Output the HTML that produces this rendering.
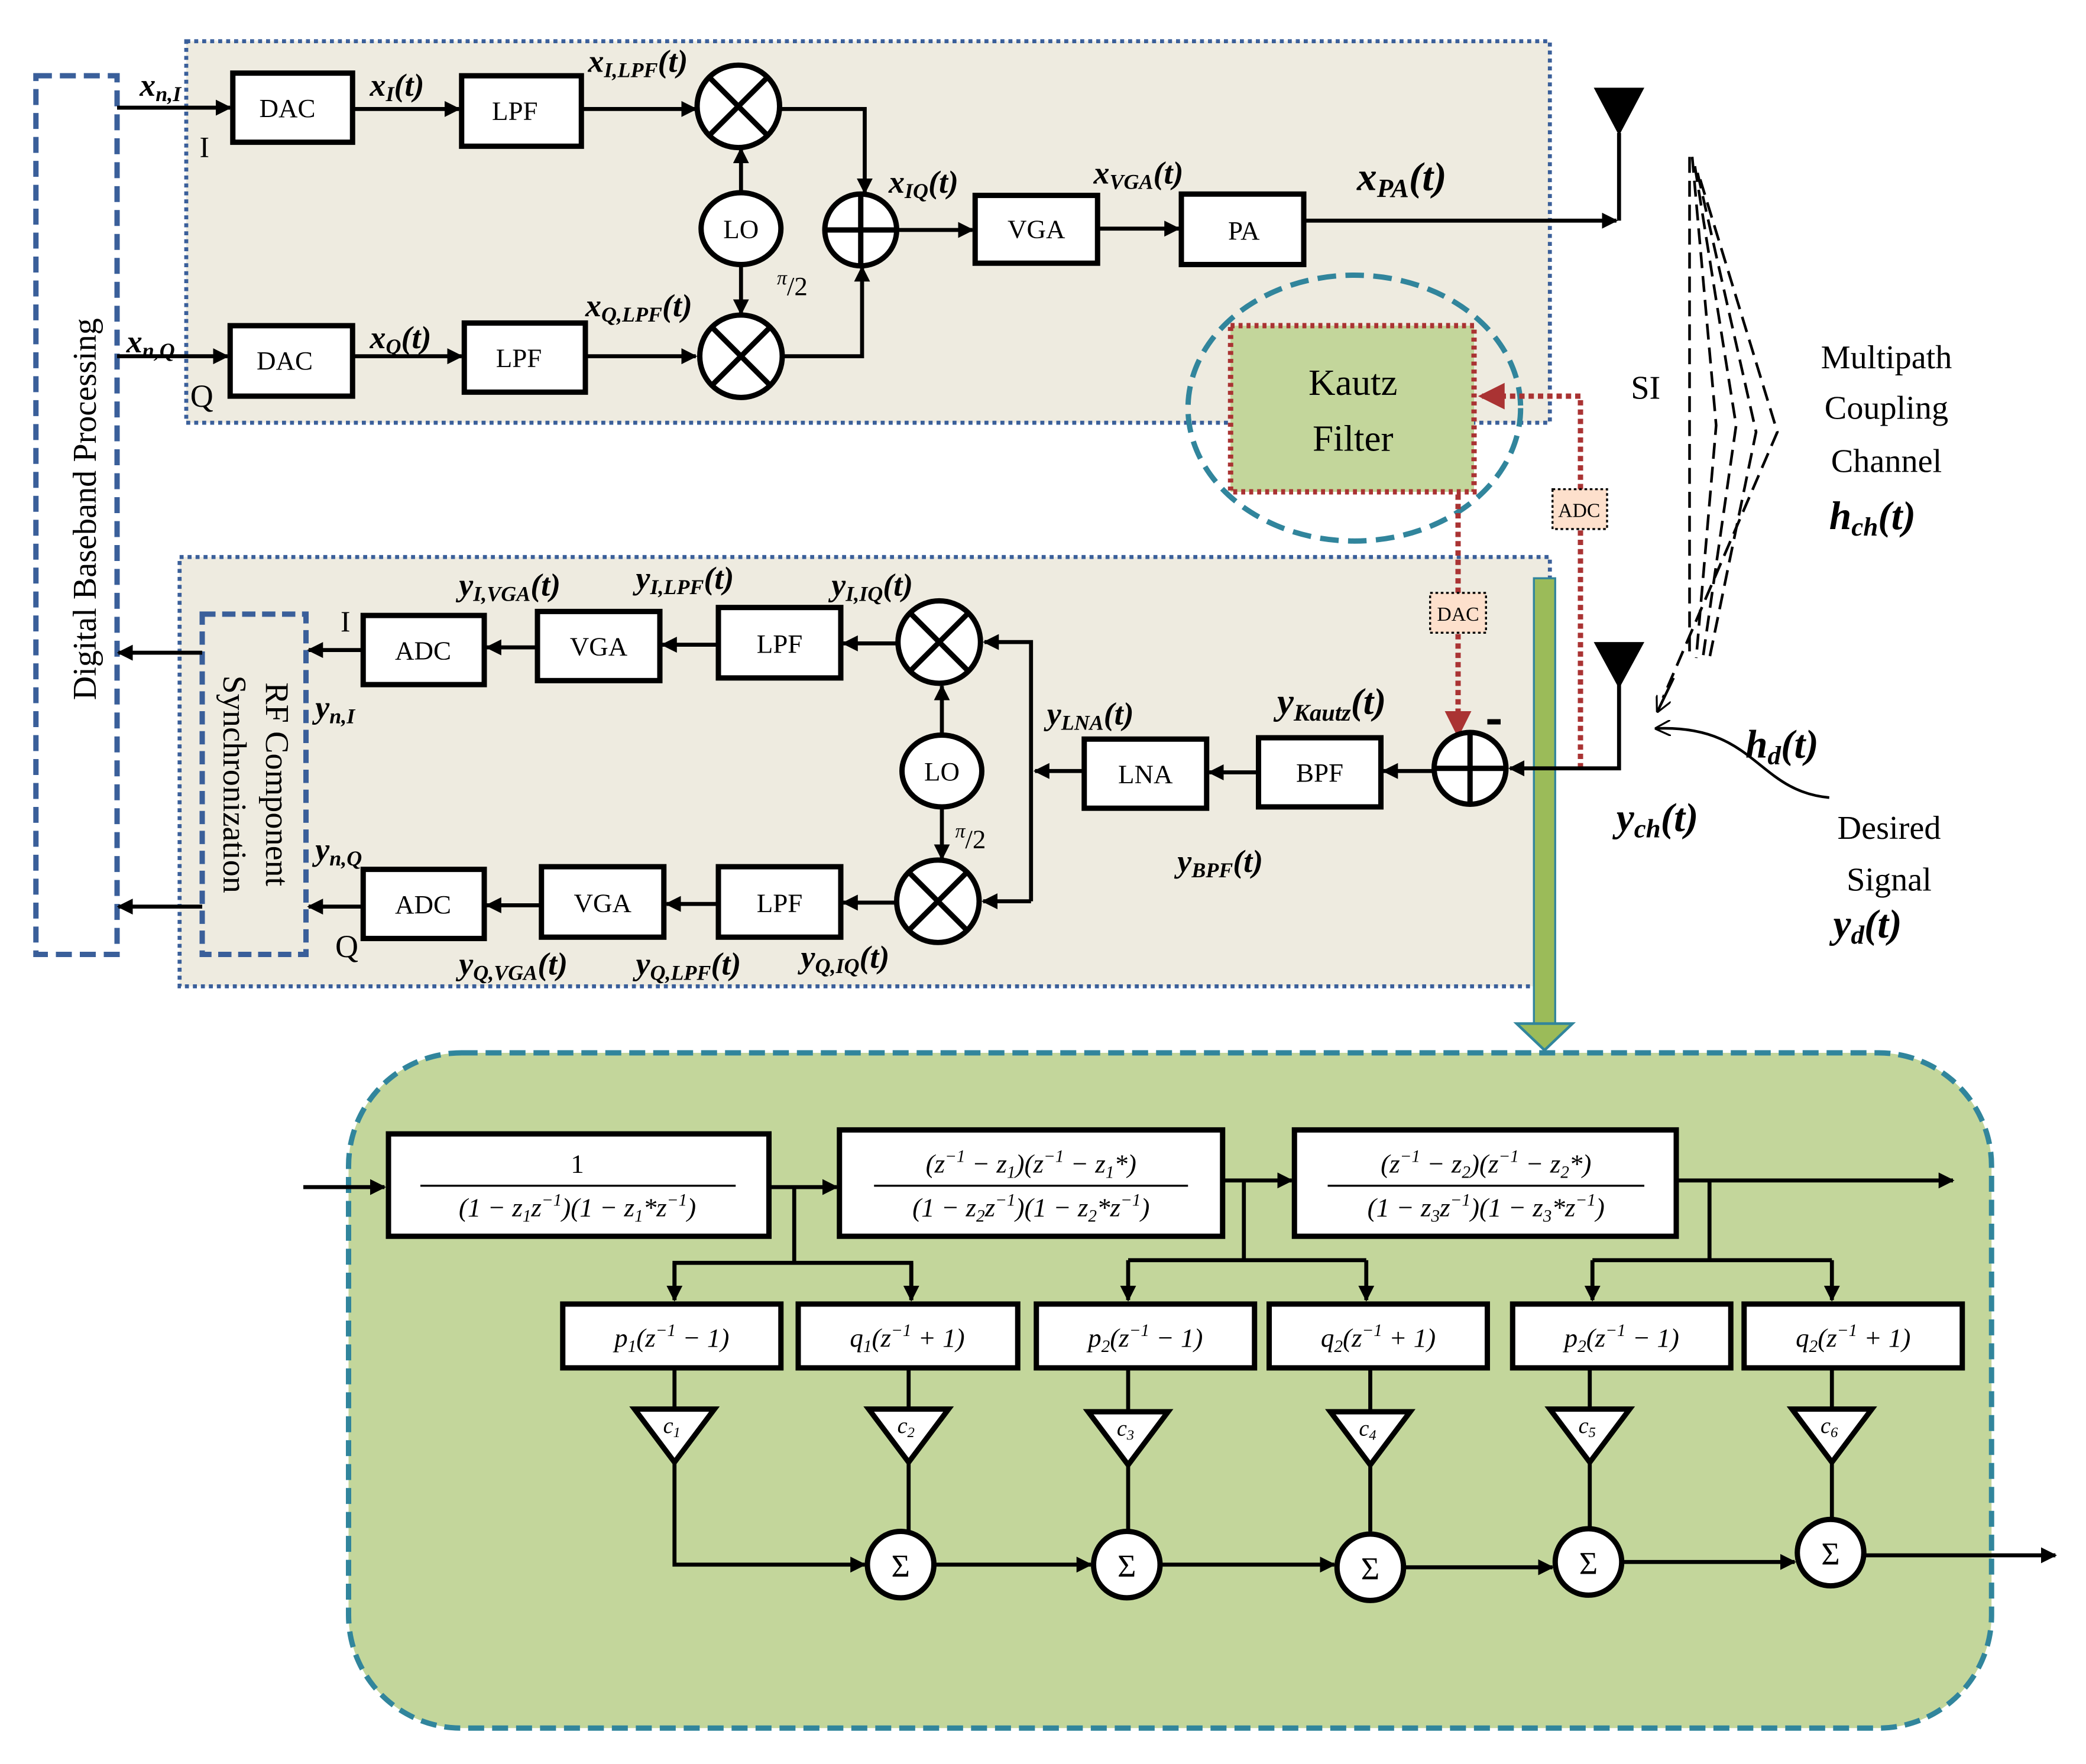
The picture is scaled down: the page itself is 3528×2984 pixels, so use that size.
<!DOCTYPE html>
<html><head><meta charset="utf-8"><style>
html,body{margin:0;padding:0;background:#fff}
svg{display:block}
text{font-family:"Liberation Serif",serif;fill:#000}
.m{font-style:italic;font-weight:bold}
</style></head><body>
<svg width="3528" height="2984" viewBox="0 0 1568 1327" preserveAspectRatio="none" xmlns="http://www.w3.org/2000/svg">
<defs>
<marker id="a" viewBox="0 0 10 10" refX="9" refY="5" markerWidth="4" markerHeight="4" orient="auto" markerUnits="strokeWidth"><path d="M0,0L10,5L0,10z" fill="#000"/></marker>
<marker id="r" viewBox="0 0 10 10" refX="9" refY="5" markerWidth="5" markerHeight="5" orient="auto" markerUnits="strokeWidth"><path d="M0,0L10,5L0,10z" fill="#a33"/></marker>
<marker id="o" viewBox="0 0 10 10" refX="9" refY="5" markerWidth="6" markerHeight="6" orient="auto" markerUnits="strokeWidth"><path d="M0,0L10,5L0,10" fill="none" stroke="#000" stroke-width="1.2"/></marker>
</defs>
<rect x="140" y="31" width="1025" height="287" fill="#eeebe0" stroke="#3a5f9a" stroke-width="3" stroke-dasharray="3,3"/>
<rect x="135" y="419" width="1030" height="323" fill="#eeebe0" stroke="#3a5f9a" stroke-width="3" stroke-dasharray="3,3"/>
<rect x="27" y="57" width="61" height="661" fill="#fff" stroke="#3a5f9a" stroke-width="4" stroke-dasharray="12,6"/>
<text transform="translate(72,383) rotate(-90)" text-anchor="middle" font-size="25">Digital Baseband Processing</text>
<rect x="152" y="462" width="78" height="256" fill="none" stroke="#3a5f9a" stroke-width="4" stroke-dasharray="10,5"/>
<text transform="translate(200,590) rotate(90)" text-anchor="middle" font-size="25">RF Component</text>
<text transform="translate(168,590) rotate(90)" text-anchor="middle" font-size="25">Synchronization</text>

<g stroke="#000" stroke-width="3" fill="none">
<line x1="88" y1="81" x2="173" y2="81" marker-end="url(#a)"/>
<line x1="265" y1="82" x2="345" y2="82" marker-end="url(#a)"/>
<line x1="437" y1="82" x2="523" y2="82" marker-end="url(#a)"/>
<line x1="88" y1="268" x2="171" y2="268" marker-end="url(#a)"/>
<line x1="265" y1="268" x2="347" y2="268" marker-end="url(#a)"/>
<line x1="440" y1="268" x2="523" y2="268" marker-end="url(#a)"/>
<line x1="557" y1="145" x2="557" y2="112" marker-end="url(#a)"/>
<line x1="557" y1="199" x2="557" y2="236" marker-end="url(#a)"/>
<polyline points="586,82 650,82 650,145" marker-end="url(#a)"/>
<polyline points="588,268 648,268 648,201" marker-end="url(#a)"/>
<line x1="674" y1="173" x2="731" y2="173" marker-end="url(#a)"/>
<line x1="825" y1="172" x2="886" y2="172" marker-end="url(#a)"/>
<line x1="980" y1="166" x2="1215" y2="166" marker-end="url(#a)"/>
<line x1="1217" y1="100" x2="1217" y2="166"/>
</g>
<g fill="#fff" stroke="#000" stroke-width="4">
<rect x="175" y="55" width="90" height="52"/><rect x="347" y="57" width="90" height="53"/>
<rect x="173" y="245" width="92" height="53"/><rect x="349" y="243" width="91" height="52"/>
<rect x="733" y="147" width="92" height="51"/><rect x="888" y="146" width="92" height="53"/>
<circle cx="555" cy="80" r="31"/><circle cx="557" cy="268" r="31"/>
<ellipse cx="557" cy="172" rx="30" ry="27"/><circle cx="647" cy="173" r="27"/>
</g>
<g stroke="#000" stroke-width="4">
<path d="M533,58L577,102M577,58L533,102M535,246L579,290M579,246L535,290M620,173H674M647,146V200"/>
</g>
<polygon points="1198,66 1236,66 1217,102" fill="#000"/>
<g font-size="20" text-anchor="middle">
<text x="216" y="88">DAC</text><text x="387" y="90">LPF</text><text x="214" y="278">DAC</text><text x="390" y="276">LPF</text>
<text x="779" y="179">VGA</text><text x="935" y="180">PA</text><text x="557" y="179">LO</text>
</g>
<g class="m" font-size="24">
<text x="105" y="72">x<tspan font-size="16" dy="4">n,I</tspan></text>
<text x="95" y="265">x<tspan font-size="16" dy="4">n,Q</tspan></text>
<text x="278" y="72">x<tspan font-size="16" dy="4">I</tspan><tspan dy="-4">(t)</tspan></text>
<text x="278" y="262">x<tspan font-size="16" dy="4">Q</tspan><tspan dy="-4">(t)</tspan></text>
<text x="442" y="54">x<tspan font-size="16" dy="4">I,LPF</tspan><tspan dy="-4">(t)</tspan></text>
<text x="440" y="238">x<tspan font-size="16" dy="4">Q,LPF</tspan><tspan dy="-4">(t)</tspan></text>
<text x="668" y="145">x<tspan font-size="16" dy="4">IQ</tspan><tspan dy="-4">(t)</tspan></text>
<text x="822" y="138">x<tspan font-size="16" dy="4">VGA</tspan><tspan dy="-4">(t)</tspan></text>
<text x="1020" y="143" font-size="30">x<tspan font-size="20" dy="5">PA</tspan><tspan dy="-5">(t)</tspan></text>
</g>
<text x="150" y="118" font-size="22">I</text><text x="143" y="306" font-size="24">Q</text>
<text x="584" y="222" font-size="20"><tspan font-style="italic" font-size="15" dy="-8">π</tspan><tspan dy="8">/2</tspan></text>

<ellipse cx="1018" cy="307" rx="125" ry="100" fill="none" stroke="#31859c" stroke-width="4" stroke-dasharray="14,7"/>
<rect x="925" y="245" width="183" height="125" fill="#c3d69b" stroke="#a33" stroke-width="4" stroke-dasharray="3,3"/>
<text x="1017" y="297" font-size="28" text-anchor="middle">Kautz</text>
<text x="1017" y="339" font-size="28" text-anchor="middle">Filter</text>
<polyline points="1188,578 1188,298 1113,298" fill="none" stroke="#a33" stroke-width="4" stroke-dasharray="4,3" marker-end="url(#r)"/>
<line x1="1096" y1="372" x2="1096" y2="553" stroke="#a33" stroke-width="4" stroke-dasharray="4,3" marker-end="url(#r)"/>
<rect x="1167" y="368" width="41" height="30" fill="#fde0cc" stroke="#000" stroke-width="1.5" stroke-dasharray="2,2"/>
<text x="1187" y="389" font-size="15" text-anchor="middle">ADC</text>
<rect x="1075" y="446" width="42" height="30" fill="#fde0cc" stroke="#000" stroke-width="1.5" stroke-dasharray="2,2"/>
<text x="1096" y="467" font-size="15" text-anchor="middle">DAC</text>

<g stroke="#000" stroke-width="2" fill="none" stroke-dasharray="12,6">
<line x1="1270" y1="118" x2="1270" y2="495"/>
<polyline points="1272,118 1290,320 1275,495"/>
<polyline points="1274,125 1305,320 1280,495"/>
<polyline points="1276,130 1320,325 1285,495"/>
<polyline points="1278,135 1336,325 1250,525"/>
</g>
<line x1="1258" y1="510" x2="1246" y2="535" stroke="#000" stroke-width="2" marker-end="url(#o)"/>
<text x="1237" y="300" font-size="25" text-anchor="middle">SI</text>
<g font-size="25" text-anchor="middle"><text x="1418" y="277">Multipath</text><text x="1418" y="315">Coupling</text><text x="1418" y="355">Channel</text>
<text x="1420" y="631">Desired</text><text x="1420" y="670">Signal</text></g>
<text x="1375" y="398" class="m" font-size="30">h<tspan font-size="20" dy="5">ch</tspan><tspan dy="-5">(t)</tspan></text>
<text x="1312" y="570" class="m" font-size="30">h<tspan font-size="20" dy="5">d</tspan><tspan dy="-5">(t)</tspan></text>
<text x="1378" y="705" class="m" font-size="30">y<tspan font-size="20" dy="5">d</tspan><tspan dy="-5">(t)</tspan></text>
<text x="1215" y="625" class="m" font-size="30">y<tspan font-size="20" dy="5">ch</tspan><tspan dy="-5">(t)</tspan></text>
<path d="M1375,600 C1320,595 1320,545 1245,548" fill="none" stroke="#000" stroke-width="2" marker-end="url(#o)"/>

<rect x="1153" y="435" width="16" height="340" fill="#9bbb59" stroke="#31859c" stroke-width="1.5"/>
<polygon points="1140,770 1182,770 1161,790" fill="#9bbb59" stroke="#31859c" stroke-width="2"/>

<polygon points="1198,483 1236,483 1217,518" fill="#000"/>
<g stroke="#000" stroke-width="3" fill="none">
<polyline points="1217,515 1217,578 1135,578" marker-end="url(#a)"/>
<line x1="1078" y1="580" x2="1040" y2="580" marker-end="url(#a)"/>
<line x1="946" y1="581" x2="909" y2="581" marker-end="url(#a)"/>
<line x1="815" y1="580" x2="778" y2="580" marker-end="url(#a)"/>
<polyline points="775,678 775,483 740,483" marker-end="url(#a)"/>
<line x1="775" y1="678" x2="739" y2="678" marker-end="url(#a)"/>
<line x1="708" y1="553" x2="708" y2="516" marker-end="url(#a)"/>
<line x1="708" y1="607" x2="708" y2="646" marker-end="url(#a)"/>
<line x1="675" y1="484" x2="634" y2="484" marker-end="url(#a)"/>
<line x1="540" y1="485" x2="498" y2="485" marker-end="url(#a)"/>
<line x1="404" y1="487" x2="366" y2="487" marker-end="url(#a)"/>
<line x1="273" y1="489" x2="232" y2="489" marker-end="url(#a)"/>
<line x1="674" y1="679" x2="634" y2="679" marker-end="url(#a)"/>
<line x1="540" y1="680" x2="501" y2="680" marker-end="url(#a)"/>
<line x1="407" y1="681" x2="366" y2="681" marker-end="url(#a)"/>
<line x1="273" y1="682" x2="232" y2="682" marker-end="url(#a)"/>
<line x1="152" y1="491" x2="89" y2="491" marker-end="url(#a)"/>
<line x1="152" y1="682" x2="89" y2="682" marker-end="url(#a)"/>
</g>
<g fill="#fff" stroke="#000" stroke-width="4">
<rect x="946" y="555" width="92" height="52"/><rect x="815" y="556" width="92" height="52"/>
<rect x="540" y="457" width="92" height="53"/><rect x="404" y="460" width="92" height="52"/><rect x="273" y="463" width="91" height="52"/>
<rect x="540" y="652" width="92" height="53"/><rect x="407" y="652" width="92" height="53"/><rect x="273" y="654" width="91" height="52"/>
<circle cx="706" cy="483" r="31"/><circle cx="705" cy="678" r="31"/>
<ellipse cx="708" cy="580" rx="30" ry="27"/><circle cx="1105" cy="578" r="27"/>
</g>
<g stroke="#000" stroke-width="4"><path d="M684,461L728,505M728,461L684,505M683,656L727,700M727,656L683,700M1078,578H1132M1105,551V605M1118,543H1128"/></g>
<g font-size="20" text-anchor="middle">
<text x="992" y="588">BPF</text><text x="861" y="589">LNA</text><text x="708" y="587">LO</text>
<text x="586" y="491">LPF</text><text x="450" y="493">VGA</text><text x="318" y="496">ADC</text>
<text x="586" y="686">LPF</text><text x="453" y="686">VGA</text><text x="318" y="687">ADC</text>
</g>
<g class="m" font-size="24">
<text x="345" y="448">y<tspan font-size="16" dy="4">I,VGA</tspan><tspan dy="-4">(t)</tspan></text>
<text x="478" y="443">y<tspan font-size="16" dy="4">I,LPF</tspan><tspan dy="-4">(t)</tspan></text>
<text x="625" y="448">y<tspan font-size="16" dy="4">I,IQ</tspan><tspan dy="-4">(t)</tspan></text>
<text x="237" y="540">y<tspan font-size="16" dy="4">n,I</tspan></text>
<text x="237" y="647">y<tspan font-size="16" dy="4">n,Q</tspan></text>
<text x="787" y="545">y<tspan font-size="16" dy="4">LNA</tspan><tspan dy="-4">(t)</tspan></text>
<text x="960" y="537" font-size="28">y<tspan font-size="18" dy="5">Kautz</tspan><tspan dy="-5">(t)</tspan></text>
<text x="885" y="656">y<tspan font-size="16" dy="4">BPF</tspan><tspan dy="-4">(t)</tspan></text>
<text x="345" y="733">y<tspan font-size="16" dy="4">Q,VGA</tspan><tspan dy="-4">(t)</tspan></text>
<text x="478" y="733">y<tspan font-size="16" dy="4">Q,LPF</tspan><tspan dy="-4">(t)</tspan></text>
<text x="602" y="728">y<tspan font-size="16" dy="4">Q,IQ</tspan><tspan dy="-4">(t)</tspan></text>
</g>
<text x="256" y="475" font-size="22">I</text><text x="252" y="720" font-size="24">Q</text>
<text x="718" y="638" font-size="20"><tspan font-style="italic" font-size="15" dy="-8">π</tspan><tspan dy="8">/2</tspan></text>

<rect x="262" y="792" width="1235" height="508" rx="85" fill="#c3d69b" stroke="#31859c" stroke-width="4" stroke-dasharray="12,6"/>
<g stroke="#000" stroke-width="3" fill="none">
<line x1="228" y1="893" x2="289" y2="893" marker-end="url(#a)"/>
<line x1="578" y1="893" x2="629" y2="893" marker-end="url(#a)"/>
<line x1="919" y1="888" x2="971" y2="888" marker-end="url(#a)"/>
<line x1="1260" y1="888" x2="1468" y2="888" marker-end="url(#a)"/>
<path d="M597,893V950M935,888V948M1285,888V948"/>
<polyline points="507,978 507,950 685,950 685,978"/>
<line x1="507" y1="950" x2="507" y2="978" marker-end="url(#a)"/><line x1="685" y1="950" x2="685" y2="978" marker-end="url(#a)"/>
<polyline points="848,948 1027,948"/>
<line x1="848" y1="948" x2="848" y2="978" marker-end="url(#a)"/><line x1="1027" y1="948" x2="1027" y2="978" marker-end="url(#a)"/>
<polyline points="1197,948 1377,948"/>
<line x1="1197" y1="948" x2="1197" y2="978" marker-end="url(#a)"/><line x1="1377" y1="948" x2="1377" y2="978" marker-end="url(#a)"/>
<path d="M507,1029V1060M683,1029V1060M848,1029V1062M1030,1029V1062M1195,1029V1060M1377,1029V1060"/>
<polyline points="507,1100 507,1177 650,1177" marker-end="url(#a)"/>
<path d="M683,1100V1152M848,1100V1152M1030,1100V1152M1195,1100V1150M1377,1100V1143"/>
<line x1="702" y1="1177" x2="820" y2="1177" marker-end="url(#a)"/>
<line x1="872" y1="1177" x2="1003" y2="1177" marker-end="url(#a)"/>
<line x1="1055" y1="1179" x2="1167" y2="1179" marker-end="url(#a)"/>
<line x1="1219" y1="1175" x2="1349" y2="1175" marker-end="url(#a)"/>
<line x1="1401" y1="1170" x2="1545" y2="1170" marker-end="url(#a)"/>
</g>
<g fill="#fff" stroke="#000" stroke-width="4">
<rect x="292" y="853" width="286" height="77"/><rect x="631" y="850" width="288" height="80"/><rect x="973" y="850" width="287" height="80"/>
<rect x="423" y="981" width="164" height="48"/><rect x="600" y="981" width="165" height="48"/><rect x="779" y="981" width="164" height="48"/>
<rect x="954" y="981" width="164" height="48"/><rect x="1137" y="981" width="164" height="48"/><rect x="1311" y="981" width="164" height="48"/>
<polygon points="477,1060 537,1060 507,1100"/><polygon points="653,1060 713,1060 683,1100"/><polygon points="818,1062 878,1062 848,1102"/>
<polygon points="1000,1062 1060,1062 1030,1102"/><polygon points="1165,1060 1225,1060 1195,1100"/><polygon points="1347,1060 1407,1060 1377,1100"/>
<circle cx="677" cy="1177" r="25"/><circle cx="847" cy="1177" r="25"/><circle cx="1030" cy="1179" r="25"/><circle cx="1194" cy="1175" r="25"/><circle cx="1376" cy="1168" r="25"/>
</g>
<g stroke="#000" stroke-width="1.5"><path d="M316,892H553M657,892H893M998,892H1236"/></g>
<g font-size="20" text-anchor="middle" font-style="italic">
<text x="434" y="882" font-style="normal">1</text>
<text x="434" y="915">(1 − z<tspan font-size="13" dy="4">1</tspan><tspan dy="-4">z</tspan><tspan font-size="13" dy="-8">−1</tspan><tspan dy="8">)(1 − z</tspan><tspan font-size="13" dy="4">1</tspan><tspan dy="-4">*z</tspan><tspan font-size="13" dy="-8">−1</tspan><tspan dy="8">)</tspan></text>
<text x="775" y="882">(z<tspan font-size="13" dy="-8">−1</tspan><tspan dy="8"> − z</tspan><tspan font-size="13" dy="4">1</tspan><tspan dy="-4">)(z</tspan><tspan font-size="13" dy="-8">−1</tspan><tspan dy="8"> − z</tspan><tspan font-size="13" dy="4">1</tspan><tspan dy="-4">*)</tspan></text>
<text x="775" y="915">(1 − z<tspan font-size="13" dy="4">2</tspan><tspan dy="-4">z</tspan><tspan font-size="13" dy="-8">−1</tspan><tspan dy="8">)(1 − z</tspan><tspan font-size="13" dy="4">2</tspan><tspan dy="-4">*z</tspan><tspan font-size="13" dy="-8">−1</tspan><tspan dy="8">)</tspan></text>
<text x="1117" y="882">(z<tspan font-size="13" dy="-8">−1</tspan><tspan dy="8"> − z</tspan><tspan font-size="13" dy="4">2</tspan><tspan dy="-4">)(z</tspan><tspan font-size="13" dy="-8">−1</tspan><tspan dy="8"> − z</tspan><tspan font-size="13" dy="4">2</tspan><tspan dy="-4">*)</tspan></text>
<text x="1117" y="915">(1 − z<tspan font-size="13" dy="4">3</tspan><tspan dy="-4">z</tspan><tspan font-size="13" dy="-8">−1</tspan><tspan dy="8">)(1 − z</tspan><tspan font-size="13" dy="4">3</tspan><tspan dy="-4">*z</tspan><tspan font-size="13" dy="-8">−1</tspan><tspan dy="8">)</tspan></text>
<text x="505" y="1013">p<tspan font-size="13" dy="4">1</tspan><tspan dy="-4">(z</tspan><tspan font-size="13" dy="-8">−1</tspan><tspan dy="8"> − 1)</tspan></text>
<text x="682" y="1013">q<tspan font-size="13" dy="4">1</tspan><tspan dy="-4">(z</tspan><tspan font-size="13" dy="-8">−1</tspan><tspan dy="8"> + 1)</tspan></text>
<text x="861" y="1013">p<tspan font-size="13" dy="4">2</tspan><tspan dy="-4">(z</tspan><tspan font-size="13" dy="-8">−1</tspan><tspan dy="8"> − 1)</tspan></text>
<text x="1036" y="1013">q<tspan font-size="13" dy="4">2</tspan><tspan dy="-4">(z</tspan><tspan font-size="13" dy="-8">−1</tspan><tspan dy="8"> + 1)</tspan></text>
<text x="1219" y="1013">p<tspan font-size="13" dy="4">2</tspan><tspan dy="-4">(z</tspan><tspan font-size="13" dy="-8">−1</tspan><tspan dy="8"> − 1)</tspan></text>
<text x="1393" y="1013">q<tspan font-size="13" dy="4">2</tspan><tspan dy="-4">(z</tspan><tspan font-size="13" dy="-8">−1</tspan><tspan dy="8"> + 1)</tspan></text>
</g>
<g font-size="17" font-style="italic" text-anchor="middle">
<text x="505" y="1078">c<tspan font-size="11" dy="3">1</tspan></text><text x="681" y="1078">c<tspan font-size="11" dy="3">2</tspan></text>
<text x="846" y="1080">c<tspan font-size="11" dy="3">3</tspan></text><text x="1028" y="1080">c<tspan font-size="11" dy="3">4</tspan></text>
<text x="1193" y="1078">c<tspan font-size="11" dy="3">5</tspan></text><text x="1375" y="1078">c<tspan font-size="11" dy="3">6</tspan></text>
</g>
<g font-size="24" text-anchor="middle">
<text x="677" y="1186">Σ</text><text x="847" y="1186">Σ</text><text x="1030" y="1188">Σ</text><text x="1194" y="1184">Σ</text><text x="1376" y="1177">Σ</text>
</g>
</svg>
</body></html>
